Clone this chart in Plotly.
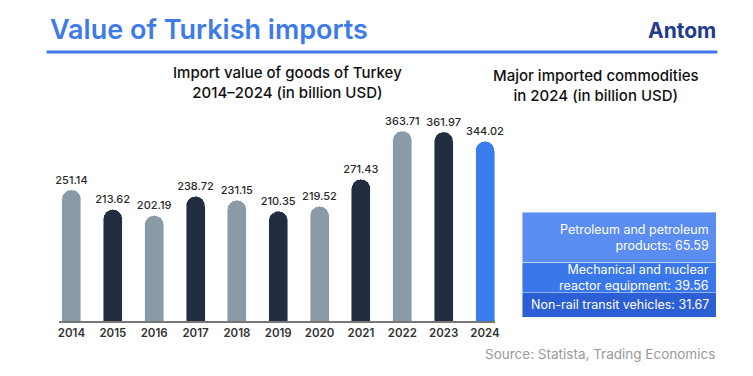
import plotly.graph_objects as go

years = ["2014", "2015", "2016", "2017", "2018", "2019", "2020", "2021", "2022", "2023", "2024"]
imports = [251.14, 213.62, 202.19, 238.72, 231.15, 210.35, 219.52, 271.43, 363.71, 361.97, 344.02]
bar_colors = ["#8B9AA7", "#232D40", "#8B9AA7", "#232D40", "#8B9AA7", "#232D40",
              "#8B9AA7", "#232D40", "#8B9AA7", "#232D40", "#3B7BF0"]

commodities = ["Non-rail transit vehicles", "Mechanical and nuclear<br>reactor equipment",
               "Petroleum and petroleum<br>products"]
commodity_values = [31.67, 39.56, 65.59]
commodity_colors = ["#2C5FD4", "#3A77EA", "#5B8CF0"]

W, H = 753, 376
def px(x): return x / W
def py(y): return 1 - y / H

fig = go.Figure()
fig.add_trace(go.Bar(
    x=years, y=imports, marker=dict(color=bar_colors, cornerradius=9.5), width=0.46,
    text=[f"{v:.2f}" for v in imports], textposition="outside", constraintext="none",
    textfont=dict(size=11, color="#2A2A2A", family="Inter", weight=500),
    cliponaxis=False, xaxis="x", yaxis="y", showlegend=False,
))

for name, val, col in zip(commodities, commodity_values, commodity_colors):
    fig.add_trace(go.Bar(
        x=[0], y=[val], marker=dict(color=col, cornerradius=0,
                                    line=dict(color="rgba(255,255,255,0.6)", width=0.7)),
        width=1, xaxis="x2", yaxis="y2", showlegend=False, hoverinfo="skip",
    ))

annotations = []
cum = 0
for name, val in zip(commodities, commodity_values):
    annotations.append(dict(
        x=1, xref="x2 domain", xanchor="right", xshift=-5,
        y=cum + val / 2, yref="y2", yanchor="middle",
        text=f"{name}: {val:.2f}", showarrow=False, align="right",
        font=dict(size=12.5, color="white", family="Inter"),
    ))
    cum += val

annotations += [
    dict(x=px(46), y=py(30), xref="paper", yref="paper", xanchor="left", yanchor="middle",
         text="Value of Turkish imports", showarrow=False,
         font=dict(size=27, color="#3E7BE8", family="Inter", weight=600)),
    dict(x=px(723), y=py(31), xref="paper", yref="paper", xanchor="right", yanchor="middle",
         text="<b>Antom</b>", showarrow=False,
         font=dict(size=21, color="#1F3A8F", family="Inter")),
    dict(x=px(288), y=py(83), xref="paper", yref="paper", xanchor="center", yanchor="middle",
         text="Import value of goods of Turkey<br>2014–2024 (in billion USD)", showarrow=False,
         font=dict(size=15, color="#111111", family="Inter", weight=500)),
    dict(x=px(600), y=py(85), xref="paper", yref="paper", xanchor="center", yanchor="middle",
         text="Major imported commodities<br>in 2024 (in billion USD)", showarrow=False,
         font=dict(size=15, color="#111111", family="Inter", weight=500)),
    dict(x=px(722), y=py(354), xref="paper", yref="paper", xanchor="right", yanchor="middle",
         text="Source: Statista, Trading Economics", showarrow=False,
         font=dict(size=13.5, color="#9A9A9A", family="Inter")),
]

fig.update_layout(
    width=W, height=H, margin=dict(l=0, r=0, t=0, b=0),
    paper_bgcolor="white", plot_bgcolor="white",
    barmode="stack",
    font=dict(family="Inter"),
    xaxis=dict(domain=[px(58), px(498)], type="category", range=[-0.29, 10.25],
               showgrid=False, showline=True, linecolor="#777777", linewidth=1.5,
               ticks="", tickfont=dict(size=11.5, color="#333333", weight=600), fixedrange=True),
    yaxis=dict(domain=[py(321), py(110)], range=[0, 404], visible=False, fixedrange=True),
    xaxis2=dict(domain=[px(525), px(721)], range=[-0.5, 0.5], visible=False, anchor="y2",
                fixedrange=True),
    yaxis2=dict(domain=[py(317), py(212)], range=[0, sum(commodity_values)], visible=False,
                anchor="x2", fixedrange=True),
    annotations=annotations,
    shapes=[dict(type="line", xref="paper", yref="paper", x0=px(45), x1=px(722),
                 y0=py(52), y1=py(52), line=dict(color="#3E7BE8", width=3))],
)
fig.write_html("out.html", config={"displayModeBar": False},
               post_script="document.body.style.margin='0px';")
